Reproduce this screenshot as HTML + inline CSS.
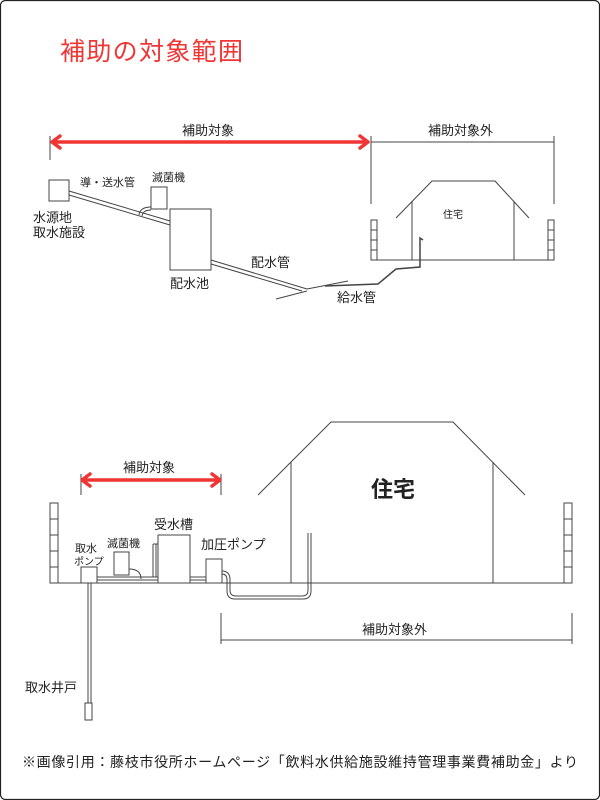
<!DOCTYPE html>
<html><head><meta charset="utf-8"><style>
html,body{margin:0;padding:0;background:#fff;}
svg{display:block;}
text{font-family:"Liberation Sans","Noto Sans CJK JP",sans-serif;fill:#222;}
</style></head><body>
<svg width="600" height="800" viewBox="0 0 600 800" xmlns="http://www.w3.org/2000/svg">
<rect x="0.5" y="0.5" width="599" height="799" rx="5" fill="#fff" stroke="#222" stroke-width="1.2"/>
<text x="60" y="60" font-size="25" style="fill:#f03535" textLength="183">補助の対象範囲</text>

<g stroke="#444" stroke-width="1" fill="none">
<!-- top dims -->
<line x1="50" y1="136" x2="50" y2="160"/>
<line x1="371" y1="136" x2="371" y2="204"/>
<line x1="554" y1="136" x2="554" y2="204"/>
<line x1="371" y1="142" x2="554" y2="142"/>
<!-- source box -->
<rect x="49" y="180" width="20" height="21" fill="#fff"/>
<!-- pipe1 -->
<line x1="69" y1="191" x2="170" y2="221"/>
<line x1="69" y1="195" x2="170" y2="225"/>
<rect x="151" y="187" width="16" height="22" fill="#fff"/>
<path d="M151 207 Q140 207 139 215"/>
<path d="M151 210 Q143 210 142 216"/>
<rect x="170" y="209" width="41" height="61" fill="#fff"/>
<!-- pipe2 -->
<line x1="211" y1="260" x2="307" y2="289"/>
<line x1="211" y1="264" x2="302" y2="291"/>
<line x1="276" y1="299" x2="307" y2="291"/>
<line x1="307" y1="289" x2="348" y2="281"/>
<path d="M325 286 L378 284 L396 269 L420 267 L420 238 L423 240" stroke-width="1.5"/>
<!-- house top -->
<polyline points="396,218 432,181 495,181 529,218"/>
<line x1="412" y1="201" x2="412" y2="260"/>
<line x1="514" y1="201" x2="514" y2="260"/>
<line x1="371" y1="260" x2="554" y2="260"/>
<rect x="371" y="220" width="6" height="40"/>
<rect x="548" y="220" width="6" height="40"/>
<path d="M371 230h6M371 240h6M371 250h6M548 230h6M548 240h6M548 250h6"/>

<!-- bottom -->
<line x1="81" y1="474" x2="81" y2="495"/>
<line x1="221" y1="474" x2="221" y2="495"/>
<polyline points="258,495 331,422 453,422 525,495"/>
<line x1="291" y1="462" x2="291" y2="583"/>
<line x1="493" y1="462" x2="493" y2="583"/>
<line x1="50" y1="583" x2="572" y2="583"/>
<rect x="50" y="503" width="8" height="80"/>
<rect x="564" y="503" width="8" height="80"/>
<path d="M50 519h8M50 535h8M50 551h8M50 567h8M564 519h8M564 535h8M564 551h8M564 567h8"/>
<rect x="81" y="567" width="16" height="16" fill="#fff"/>
<line x1="88" y1="583" x2="88" y2="703"/>
<line x1="91" y1="583" x2="91" y2="703"/>
<rect x="85" y="703" width="7" height="17" fill="#fff"/>
<rect x="114" y="552" width="15" height="23" fill="#fff"/>
<path d="M129 569 Q141 569 141 579"/>
<line x1="97" y1="577" x2="158" y2="577"/>
<line x1="97" y1="580" x2="158" y2="580"/>
<line x1="153" y1="544" x2="153" y2="577"/>
<line x1="156" y1="544" x2="156" y2="577"/>
<line x1="153" y1="544" x2="158" y2="544"/>
<rect x="158" y="535" width="32" height="48" fill="#fff"/>
<line x1="190" y1="577" x2="206" y2="577"/>
<line x1="190" y1="580" x2="206" y2="580"/>
<rect x="206" y="559" width="16" height="24" fill="#fff"/>
<path d="M222 571 Q230 571 230 580 L230 590 Q230 596 236 596 L302 596 Q308 596 308 590 L308 533"/>
<path d="M222 574 Q227 574 227 580 L227 591 Q227 599 235 599 L303 599 Q311 599 311 591 L311 533"/>
<line x1="221" y1="613" x2="221" y2="644"/>
<line x1="572" y1="613" x2="572" y2="644"/>
<line x1="221" y1="640" x2="572" y2="640"/>
</g>

<!-- red arrows -->
<g stroke="#f03535" stroke-width="3.5" fill="none" stroke-linecap="round" stroke-linejoin="round">
<line x1="54" y1="142" x2="366" y2="142"/>
<polyline points="60,136 52,142 60,148"/>
<polyline points="360,136 368,142 360,148"/>
<line x1="84" y1="480" x2="218" y2="480"/>
<polyline points="90,474 82,480 90,486"/>
<polyline points="212,474 220,480 212,486"/>
</g>

<g font-size="13">
<text x="182" y="135">補助対象</text>
<text x="428" y="135">補助対象外</text>
<text x="33" y="222">水源地</text>
<text x="33" y="237">取水施設</text>
<text x="170" y="288">配水池</text>
<text x="251" y="267">配水管</text>
<text x="337" y="302">給水管</text>
<text x="123" y="472">補助対象</text>
<text x="154" y="529">受水槽</text>
<text x="201" y="549">加圧ポンプ</text>
<text x="25" y="692">取水井戸</text>
<text x="362" y="634">補助対象外</text>
</g>
<g font-size="11">
<text x="80" y="186">導・送水管</text>
<text x="152" y="181">滅菌機</text>
<text x="107" y="547">滅菌機</text>
<text x="75" y="552">取水</text>
<text x="74" y="565" font-size="10">ポンプ</text>
<text x="443" y="218" font-size="10">住宅</text>
</g>
<text x="371" y="497" font-size="22" font-weight="bold">住宅</text>
<text x="22" y="767" font-size="14" textLength="556">※画像引用：藤枝市役所ホームページ「飲料水供給施設維持管理事業費補助金」より</text>
</svg>
</body></html>
